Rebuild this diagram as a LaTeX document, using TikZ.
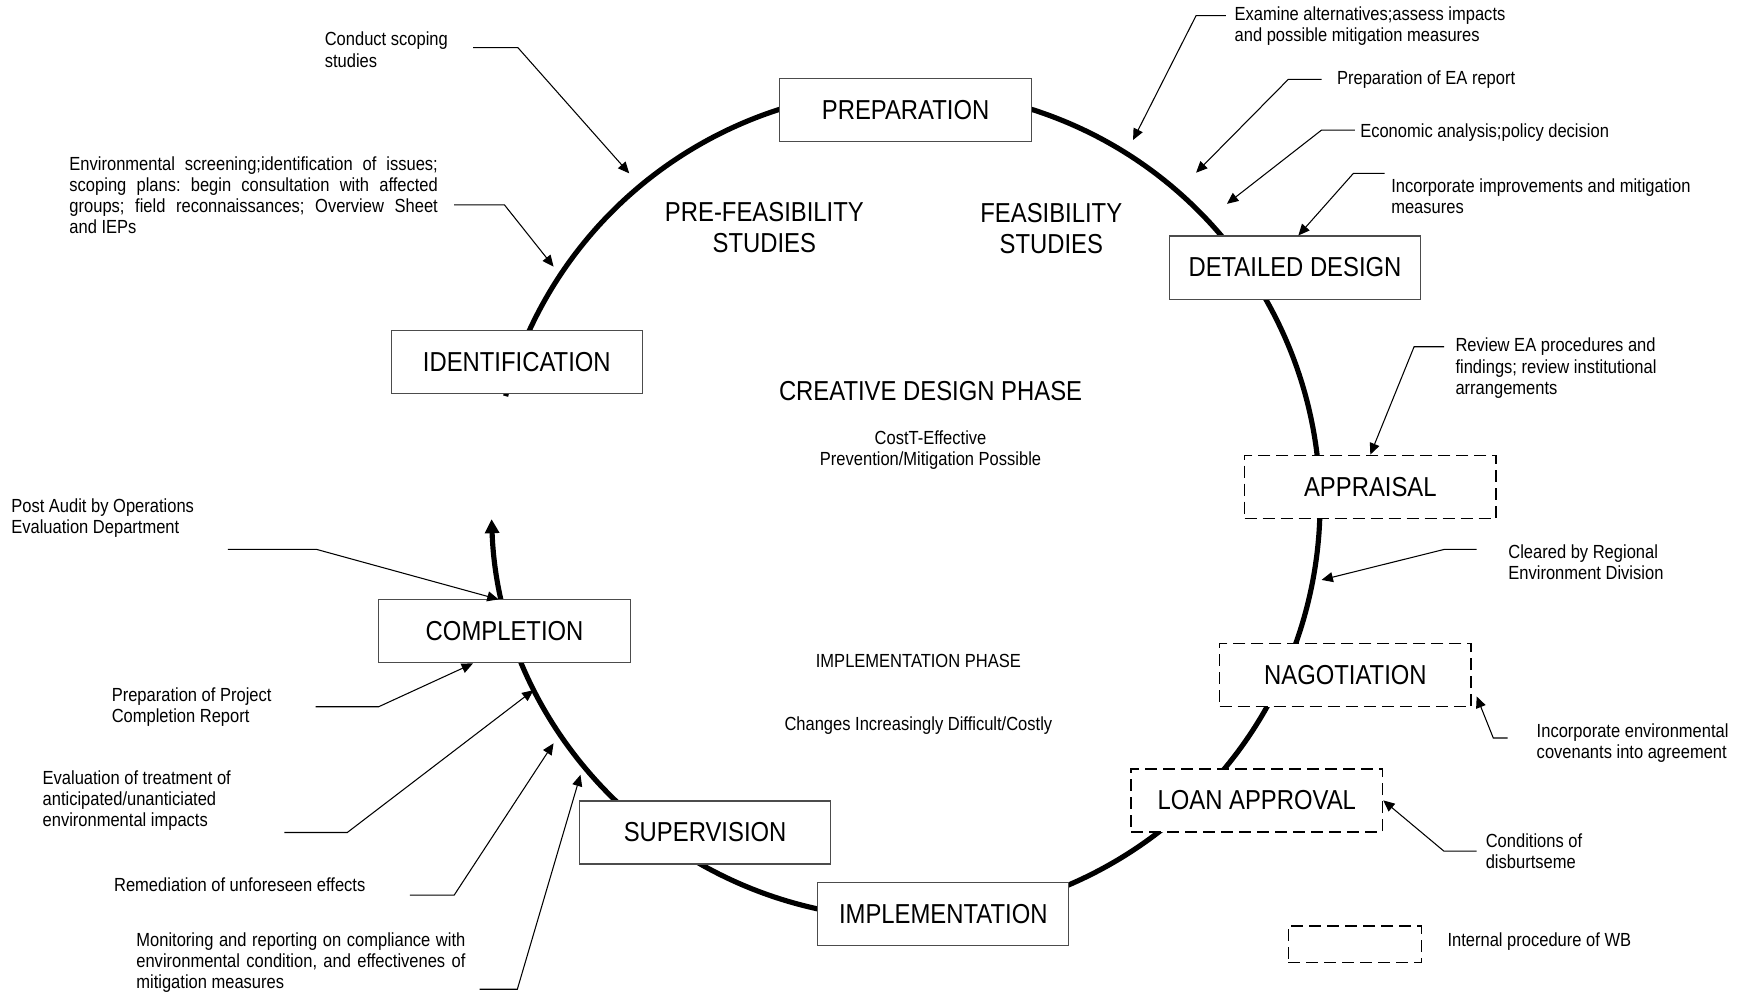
\documentclass[tikz,border=0pt]{standalone}
\usepackage{fontspec}
\setmainfont{Liberation Sans}[FakeStretch=0.87]
\usetikzlibrary{arrows.meta}
\frenchspacing
\newcommand{\stagefont}{\fontsize{23.4}{26.5}\selectfont}
\newcommand{\notefont}{\fontsize{16.2}{18}\selectfont}
\tikzset{
	stage/.style={draw=black!70, line width=0.9pt, fill=white, minimum width=75.4mm, minimum height=18.9mm, inner sep=0pt, font=\stagefont},
	wbstage/.style={stage, draw=black, line width=1.3pt, dash pattern=on 3.6mm off 1.8mm},
	phase/.style={inner sep=0pt, align=center, font=\stagefont},
	note/.style={anchor=west, inner sep=0pt, align=left, font=\notefont},
	feed/.style={line width=0.9pt, -{Triangle[length=3.4mm,width=3mm]}}
}

\begin{document}
\begin{tikzpicture}[x=0.3323mm, y=-0.3323mm]
		\useasboundingbox (0,0) rectangle (1568,899);
		%Project cycle
		\draw [line width=4.4pt, -{Triangle[length=4.2mm,width=4.2mm]}] (817.5,455) ++(195.1:374) arc[start angle=195.1, end angle=537.9, radius=374];
		%Stages
		\node [stage] (prep) at (817.5,99.5) {PREPARATION};
		\node [stage] (dd) at (1169,241.5) {DETAILED DESIGN};
		\node [stage] (ident) at (466.5,326.5) {IDENTIFICATION};
		\node [wbstage] (appr) at (1237,439.5) {APPRAISAL};
		\node [wbstage] (nego) at (1214.5,609.5) {NAGOTIATION};
		\node [wbstage] (loan) at (1134.5,722.5) {LOAN APPROVAL};
		\node [stage] (compl) at (455.5,570) {COMPLETION};
		\node [stage] (superv) at (636.5,751.5) {SUPERVISION};
		\node [stage] (impl) at (851.5,825) {IMPLEMENTATION};
		\node [wbstage, minimum width=39.9mm, minimum height=11mm] (legend) at (1223,852.5) {};
		%Phases
		\node [phase] (prefeas) at (690,205) {PRE-FEASIBILITY\\STUDIES};
		\node [phase] (feas) at (949,206) {FEASIBILITY\\STUDIES};
		\node [phase] (creative) at (840,353) {CREATIVE DESIGN PHASE};
		\node [phase, font=\notefont] (cost) at (840,406.5) {CostT-Effective\\Prevention/Mitigation Possible};
		\node [phase, font=\notefont] (implphase) at (829,597) {IMPLEMENTATION PHASE};
		\node [phase, font=\notefont] (changes) at (829,655) {Changes Increasingly Difficult/Costly};
		%Notes
		\node [note] (scoping) at (293,44.9) {Conduct scoping\\studies};
		\node [note] (screening) at (62.5,176.3) {\makebox[110.5mm][s]{Environmental screening;identification of issues;}\\\makebox[110.5mm][s]{scoping plans: begin consultation with affected}\\\makebox[110.5mm][s]{groups; field reconnaissances; Overview Sheet}\\and IEPs};
		\node [note] (examine) at (1114.3,23.3) {Examine alternatives;assess impacts\\and possible mitigation measures};
		\node [note] (eareport) at (1206.8,71.6) {Preparation of EA report};
		\node [note] (economic) at (1227.7,119.5) {Economic analysis;policy decision};
		\node [note] (improve) at (1255.7,177) {Incorporate improvements and mitigation\\measures};
		\node [note] (review) at (1313.7,332.3) {Review EA procedures and\\findings; review institutional\\arrangements};
		\node [note] (cleared) at (1361.4,507.3) {Cleared by Regional\\Environment Division};
		\node [note] (covenants) at (1387,671.2) {Incorporate environmental\\covenants into agreement};
		\node [note] (conditions) at (1341,768.7) {Conditions of\\disburtseme};
		\node [note] (internal) at (1306.5,849.7) {Internal procedure of WB};
		\node [note] (postaudit) at (10,467.8) {Post Audit by Operations\\Evaluation Department};
		\node [note] (pcr) at (100.7,637.9) {Preparation of Project\\Completion Report};
		\node [note] (evaluation) at (38.3,723) {Evaluation of treatment of\\anticipated/unanticiated\\environmental impacts};
		\node [note] (remediation) at (102.8,799) {Remediation of unforeseen effects};
		\node [note] (monitoring) at (122.9,868.7) {\makebox[98.7mm][s]{Monitoring and reporting on compliance with}\\\makebox[98.7mm][s]{environmental condition, and effectivenes of}\\mitigation measures};
		%Arrow ends
		\coordinate (scoping-s) at (427,43);
		\coordinate (scoping-t) at (568,156.5);
		\coordinate (screening-s) at (410,185);
		\coordinate (screening-t) at (499.7,240.7);
		\coordinate (examine-s) at (1106.6,14.1);
		\coordinate (examine-t) at (1022.8,126.4);
		\coordinate (eareport-s) at (1193,71.6);
		\coordinate (eareport-t) at (1079.7,155.9);
		\coordinate (economic-s) at (1223,117.4);
		\coordinate (economic-t) at (1107.6,184);
		\coordinate (improve-s) at (1249.8,156.5);
		\coordinate (review-s) at (1303.5,313);
		\coordinate (cleared-s) at (1333,496);
		\coordinate (cleared-t) at (1193,523.5);
		\coordinate (covenants-s) at (1361,666.2);
		\coordinate (covenants-t) at (1333,628.7);
		\coordinate (conditions-s) at (1333,768.4);
		\coordinate (postaudit-s) at (205.6,496);
		\coordinate (pcr-s) at (285,638);
		\coordinate (evaluation-s) at (256.7,751.5);
		\coordinate (evaluation-t) at (481.6,623);
		\coordinate (remediation-s) at (370,808);
		\coordinate (remediation-t) at (499.7,671);
		\coordinate (monitoring-s) at (433,893);
		\coordinate (monitoring-t) at (524,699.4);
		%Arrows
		\draw [feed] (scoping-s) -- ++(40.5,0) -- (scoping-t);
		\draw [feed] (screening-s) -- ++(45.4,0) -- (screening-t);
		\draw [feed] (examine-s) -- ++(-26.9,0) -- (examine-t);
		\draw [feed] (eareport-s) -- ++(-30,0) -- (eareport-t);
		\draw [feed] (economic-s) -- ++(-30,0) -- (economic-t);
		\draw [feed] (improve-s) -- ++(-28.1,0) -- ([xshift=1mm]dd.north);
		\draw [feed] (review-s) -- ++(-27,0) -- (appr.north);
		\draw [feed] (cleared-s) -- ++(-29.5,0) -- (cleared-t);
		\draw [feed] (covenants-s) -- ++(-13,0) -- (covenants-t);
		\draw [feed] (conditions-s) -- ++(-29.5,0) -- (loan.east);
		\draw [feed] (postaudit-s) -- ++(80.4,0) -- ([xshift=-1.8mm]compl.north);
		\draw [feed] (pcr-s) -- ++(56.8,0) -- ([xshift=-9.5mm]compl.south);
		\draw [feed] (evaluation-s) -- ++(56.8,0) -- (evaluation-t);
		\draw [feed] (remediation-s) -- ++(40,0) -- (remediation-t);
		\draw [feed] (monitoring-s) -- ++(34,0) -- (monitoring-t);
	\end{tikzpicture}
\end{document}
